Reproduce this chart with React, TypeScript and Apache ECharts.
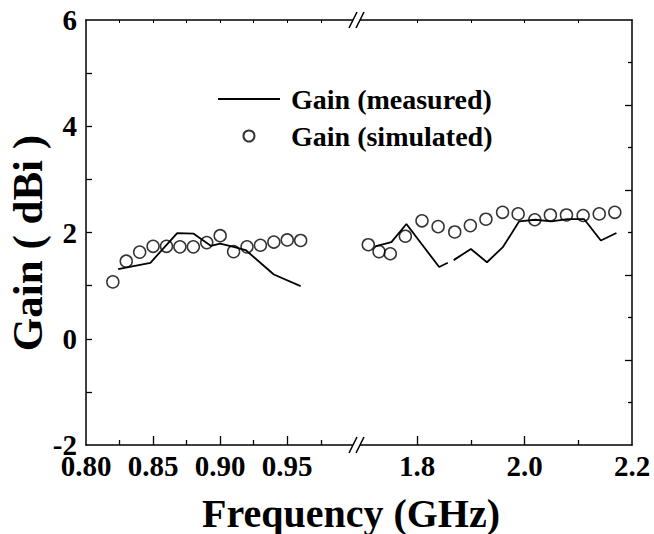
import React, { useEffect, useRef } from "react";
import * as echarts from "echarts";

// ---- data ----
const lowMeasuredX = [0.824, 0.848, 0.868, 0.88, 0.893, 0.9, 0.91, 0.919, 0.94, 0.96];
const lowMeasuredY = [1.31, 1.43, 1.99, 1.98, 1.75, 1.79, 1.73, 1.67, 1.21, 0.99];

const lowSimX = [0.82, 0.83, 0.84, 0.85, 0.86, 0.87, 0.88, 0.89, 0.9, 0.91, 0.92, 0.93, 0.94, 0.95, 0.96];
const lowSimY = [1.07, 1.46, 1.63, 1.74, 1.74, 1.73, 1.73, 1.81, 1.94, 1.64, 1.73, 1.76, 1.82, 1.86, 1.85];

const highMeasuredX = [1.722, 1.752, 1.78, 1.841, 1.857, 1.862, 1.868, 1.9, 1.93, 1.96, 1.99, 2.02, 2.05, 2.08, 2.111, 2.142, 2.171];
const highMeasuredY: (number | null)[] = [1.74, 1.82, 2.16, 1.35, 1.43, null, 1.48, 1.69, 1.44, 1.73, 2.21, 2.24, 2.21, 2.25, 2.25, 1.85, 1.99];

const highSimX = [1.709, 1.729, 1.75, 1.778, 1.809, 1.839, 1.87, 1.899, 1.928, 1.959, 1.988, 2.019, 2.048, 2.078, 2.109, 2.139, 2.168];
const highSimY = [1.77, 1.64, 1.6, 1.93, 2.22, 2.11, 2.01, 2.13, 2.25, 2.38, 2.35, 2.24, 2.33, 2.33, 2.32, 2.35, 2.38];

const lowLabels = [0.8, 0.85, 0.9, 0.95];
const lowMajorTicks = [0.85, 0.9, 0.95];
const lowMinorTicks = [0.825, 0.875, 0.925, 0.975];
const highLabels = [1.8, 2.0, 2.2];
const highMajorTicks = [1.8, 2.0];
const highMinorTicks = [1.9, 2.1];
const yLabels = [-2, 0, 2, 4, 6];
const yTicks = [-1, 0, 1, 2, 3, 4, 5];
const rightLongTicks = [4.4, 2.8, 1.2, -0.4];
const rightShortTicks = [5.2, 3.6, 2.0, 0.4, -1.2];

const MEASURED = "Gain (measured)";
const SIMULATED = "Gain (simulated)";

const FONT = "'Liberation Serif', 'Times New Roman', serif";
const BLACK = "#000";

const pairs = (xs: number[], ys: (number | null)[]) =>
  xs.map((x, i) => [x, ys[i] === null ? "-" : ys[i]]);

export default function App() {
  const ref = useRef<HTMLDivElement>(null);

  useEffect(() => {
    if (!ref.current) return;
    const chart = echarts.init(ref.current, undefined, { renderer: "svg" });

    const L = 86, BRK = 357, R = 632, T = 20, B = 445;
    const axisLine = { show: true, onZero: false, lineStyle: { color: BLACK, width: 1.5 } };
    const noLine = { show: false, onZero: false };
    const noLabel = { show: false };
    const tickFont = {
      fontFamily: FONT,
      fontWeight: "bold",
      fontSize: 29,
      color: BLACK,
    };

    const xAx = (grid: number, min: number, max: number, extra: any) => ({
      type: "value",
      gridIndex: grid,
      min,
      max,
      splitLine: { show: false },
      ...extra,
    });

    const slash = (y: number) => [
      {
        type: "polygon",
        z: 100,
        shape: { points: [[349, y + 8], [357, y - 8], [364, y - 8], [356, y + 8]] },
        style: { fill: "#fff" },
      },
      {
        type: "line",
        z: 101,
        shape: { x1: 349, y1: y + 8, x2: 357, y2: y - 8 },
        style: { stroke: BLACK, lineWidth: 1.6 },
      },
      {
        type: "line",
        z: 101,
        shape: { x1: 356, y1: y + 8, x2: 364, y2: y - 8 },
        style: { stroke: BLACK, lineWidth: 1.6 },
      },
    ];

    chart.setOption({
      animation: false,
      backgroundColor: "#fff",
      grid: [
        { left: L, top: T, width: BRK - L, height: B - T },
        { left: BRK, top: T, width: R - BRK, height: B - T },
      ],
      legend: {
        left: 217,
        top: 84,
        padding: 0,
        orient: "vertical",
        itemWidth: 62,
        itemHeight: 11,
        itemGap: 7,
        data: [
          { name: MEASURED, itemStyle: { opacity: 0 } },
          { name: SIMULATED },
        ],
        textStyle: {
          fontFamily: FONT,
          fontWeight: "bold",
          fontSize: 28,
          color: BLACK,
          lineHeight: 30,
          padding: [0, 0, 0, 6],
        },
      },
      xAxis: [
        xAx(0, 0.8, 1.002, {
          position: "bottom",
          axisLine,
          axisTick: { show: true, inside: true, length: 9, lineStyle: { color: BLACK, width: 1.3 }, customValues: lowMajorTicks },
          axisLabel: {
            show: true,
            customValues: lowLabels,
            formatter: (v: number) => v.toFixed(2),
            ...tickFont,
            lineHeight: 24,
            margin: 9,
          },
        }),
        xAx(0, 0.8, 1.002, {
          position: "bottom",
          axisLine: noLine,
          axisTick: { show: true, inside: true, length: 5, lineStyle: { color: BLACK, width: 1.3 }, customValues: lowMinorTicks },
          axisLabel: noLabel,
        }),
        xAx(0, 0.8, 1.002, {
          position: "top",
          axisLine,
          axisTick: { show: true, inside: true, length: 3, lineStyle: { color: BLACK, width: 1 }, customValues: [...lowMajorTicks, ...lowMinorTicks] },
          axisLabel: noLabel,
        }),
        xAx(1, 1.688, 2.2, {
          position: "bottom",
          axisLine,
          axisTick: { show: true, inside: true, length: 9, lineStyle: { color: BLACK, width: 1.3 }, customValues: highMajorTicks },
          axisLabel: {
            show: true,
            customValues: highLabels,
            formatter: (v: number) => v.toFixed(1),
            ...tickFont,
            lineHeight: 24,
            margin: 9,
          },
        }),
        xAx(1, 1.688, 2.2, {
          position: "bottom",
          axisLine: noLine,
          axisTick: { show: true, inside: true, length: 5, lineStyle: { color: BLACK, width: 1.3 }, customValues: highMinorTicks },
          axisLabel: noLabel,
        }),
        xAx(1, 1.688, 2.2, {
          position: "top",
          axisLine,
          axisTick: { show: true, inside: true, length: 3, lineStyle: { color: BLACK, width: 1 }, customValues: [...highMajorTicks, ...highMinorTicks] },
          axisLabel: noLabel,
        }),
      ],
      yAxis: [
        {
          type: "value",
          gridIndex: 0,
          position: "left",
          min: -2,
          max: 6,
          interval: 1,
          splitLine: { show: false },
          axisLine,
          axisTick: { show: true, inside: true, length: 6, lineStyle: { color: BLACK, width: 1.3 }, customValues: yTicks },
          axisLabel: {
            show: true,
            customValues: yLabels,
            formatter: (v: number) => String(v),
            ...tickFont,
            lineHeight: 18,
            margin: 9,
          },
        },
        {
          type: "value",
          gridIndex: 1,
          position: "right",
          min: -2,
          max: 6,
          splitLine: { show: false },
          axisLine,
          axisTick: { show: true, inside: true, length: 7, lineStyle: { color: BLACK, width: 1.3 }, customValues: rightLongTicks },
          axisLabel: noLabel,
        },
        {
          type: "value",
          gridIndex: 1,
          position: "right",
          min: -2,
          max: 6,
          splitLine: { show: false },
          axisLine: noLine,
          axisTick: { show: true, inside: true, length: 4, lineStyle: { color: BLACK, width: 1.3 }, customValues: rightShortTicks },
          axisLabel: noLabel,
        },
      ],
      series: [
        {
          name: MEASURED,
          type: "line",
          xAxisIndex: 0,
          yAxisIndex: 0,
          symbol: "none",
          lineStyle: { color: BLACK, width: 1.8 },
          itemStyle: { color: BLACK },
          data: pairs(lowMeasuredX, lowMeasuredY),
        },
        {
          name: MEASURED,
          type: "line",
          xAxisIndex: 3,
          yAxisIndex: 1,
          symbol: "none",
          connectNulls: false,
          lineStyle: { color: BLACK, width: 1.8 },
          itemStyle: { color: BLACK },
          data: pairs(highMeasuredX, highMeasuredY),
        },
        {
          name: SIMULATED,
          type: "scatter",
          xAxisIndex: 0,
          yAxisIndex: 0,
          symbol: "circle",
          symbolSize: 12,
          itemStyle: { color: "rgba(0,0,0,0)", borderColor: BLACK, borderWidth: 1.5 },
          data: pairs(lowSimX, lowSimY),
        },
        {
          name: SIMULATED,
          type: "scatter",
          xAxisIndex: 3,
          yAxisIndex: 1,
          symbol: "circle",
          symbolSize: 12,
          itemStyle: { color: "rgba(0,0,0,0)", borderColor: BLACK, borderWidth: 1.5 },
          data: pairs(highSimX, highSimY),
        },
      ],
      graphic: [
        ...slash(T),
        ...slash(B),
        {
          type: "text",
          z: 100,
          x: 351,
          y: 513,
          style: {
            text: "Frequency (GHz)",
            fontFamily: FONT,
            fontWeight: "bold",
            fontSize: 40,
            fill: BLACK,
            align: "center",
            verticalAlign: "middle",
          },
        },
        {
          type: "text",
          z: 100,
          x: 27,
          y: 243,
          rotation: Math.PI / 2,
          style: {
            text: "Gain ( dBi )",
            fontFamily: FONT,
            fontWeight: "bold",
            fontSize: 43,
            fill: BLACK,
            align: "center",
            verticalAlign: "middle",
          },
        },
      ],
    });

    return () => chart.dispose();
  }, []);

  return (
    <div
      ref={ref}
      style={{ position: "fixed", left: 0, top: 0, width: 654, height: 534 }}
    />
  );
}
